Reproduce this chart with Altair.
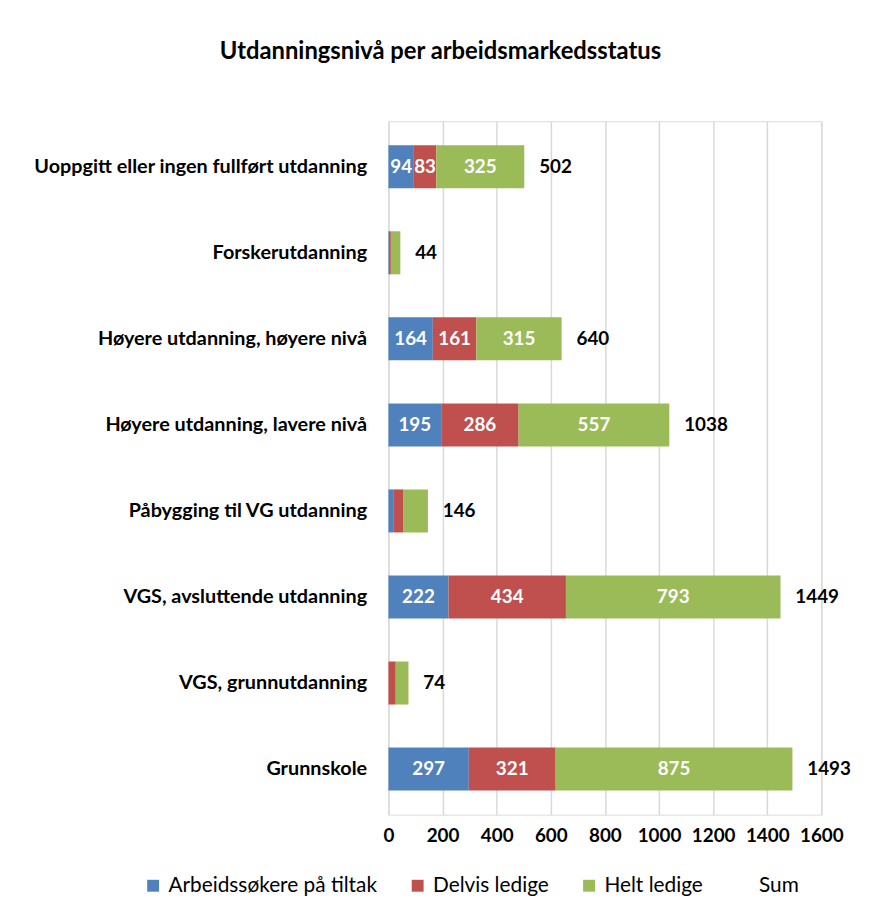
import altair as alt
import pandas as pd

categories = [
    "Uoppgitt eller ingen fullført utdanning",
    "Forskerutdanning",
    "Høyere utdanning, høyere nivå",
    "Høyere utdanning, lavere nivå",
    "Påbygging til VG utdanning",
    "VGS, avsluttende utdanning",
    "VGS, grunnutdanning",
    "Grunnskole",
]
series = ["Arbeidssøkere på tiltak", "Delvis ledige", "Helt ledige", "Sum"]
tiltak = [94, 2, 164, 195, 20, 222, 0, 297]
delvis = [83, 7, 161, 286, 36, 434, 27, 321]
helt = [325, 35, 315, 557, 90, 793, 47, 875]
sums = [502, 44, 640, 1038, 146, 1449, 74, 1493]
x_ticks = [0, 200, 400, 600, 800, 1000, 1200, 1400, 1600]
colors = ["#4F81BD", "#C0504D", "#9BBB59", "transparent"]

rows = []
for i, c in enumerate(categories):
    for j, (s, vals) in enumerate(zip(series[:3], [tiltak, delvis, helt])):
        rows.append({"kategori": c, "serie": s, "ord": j, "verdi": vals[i], "total": sums[i]})
df = pd.DataFrame(rows)
df_sum = pd.DataFrame({"kategori": categories, "sum": sums})

FONT = "Lato"

y_enc = alt.Y("kategori:N", sort=categories, title=None,
              scale=alt.Scale(paddingInner=0.5, paddingOuter=0.28),
              axis=alt.Axis(domain=False, ticks=False, labelFontSize=20, labelFontWeight="bold",
                            labelColor="#000000", labelPadding=22, labelFont=FONT, labelLimit=500))
x_enc = alt.X("verdi:Q", stack="zero", title=None,
              scale=alt.Scale(domain=[0, 1600], nice=False),
              axis=alt.Axis(values=x_ticks, format="d", labelOverlap=False, labelFlush=False,
                            grid=True, gridColor="#d9d9d9", gridWidth=1.5, domain=False,
                            ticks=False, labelFontSize=19, labelFontWeight="bold",
                            labelColor="#000000", labelPadding=12, labelFont=FONT))

bars = alt.Chart(df).mark_bar().encode(
    y=y_enc,
    x=x_enc,
    color=alt.Color("serie:N", scale=alt.Scale(domain=series, range=colors),
                    legend=alt.Legend(title=None, orient="none", legendX=-248, legendY=761,
                                      direction="horizontal", symbolType="square",
                                      symbolSize=144, symbolStrokeWidth=0, labelFontSize=21,
                                      labelFont=FONT, labelColor="#000000", columnPadding=30,
                                      labelOffset=5, labelLimit=500)),
    order=alt.Order("ord:Q"),
)

labels = alt.Chart(df).transform_stack(
    stack="verdi", groupby=["kategori"], as_=["x0", "x1"], sort=[alt.SortField("ord")]
).transform_calculate(
    mid="(datum.x0 + datum.x1) / 2"
).transform_filter(
    "datum.total >= 400"
).mark_text(color="white", fontWeight="bold", fontSize=19, font=FONT).encode(
    y=alt.Y("kategori:N", sort=categories),
    x=alt.X("mid:Q"),
    text=alt.Text("verdi:Q"),
)

sum_text = alt.Chart(df_sum).mark_text(align="left", dx=15, color="#000000", fontWeight="bold",
                                       fontSize=19, font=FONT).encode(
    y=alt.Y("kategori:N", sort=categories),
    x=alt.X("sum:Q"),
    text=alt.Text("sum:Q"),
)

chart = alt.layer(bars, labels, sum_text).properties(
    width=437,
    height=700,
    autosize=alt.AutoSizeParams(type="none"),
    padding={"left": 384, "top": 110, "right": 40, "bottom": 91},
    title=alt.TitleParams("Utdanningsnivå per arbeidsmarkedsstatus", fontSize=24, font=FONT,
                          fontWeight="bold", color="#000000", anchor="middle", dx=-166,
                          offset=58),
).configure_view(stroke=None).configure(background="white")

chart.save("out.html", embed_options={"renderer": "svg", "actions": False})
